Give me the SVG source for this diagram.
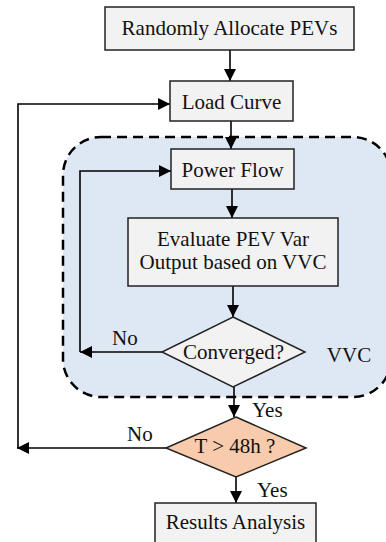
<svg xmlns="http://www.w3.org/2000/svg" width="386" height="542" viewBox="0 0 386 542">
<style>
  .box { fill: #f2f2f2; stroke: #222; stroke-width: 1.5; }
  .dia { stroke: #222; stroke-width: 1.5; }
  .t { font-family: 'Liberation Serif', 'DejaVu Serif', serif; font-size: 21px; fill: #111; text-anchor: middle; }
  .lbl { font-family: 'Liberation Serif', 'DejaVu Serif', serif; font-size: 21px; fill: #111; }
  .c { fill: none; stroke: #000; stroke-width: 1.6; marker-end: url(#ah); }
</style>
<defs>
  <marker id="ah" markerUnits="userSpaceOnUse" markerWidth="12" markerHeight="12" refX="12" refY="6" orient="auto">
    <path d="M0,0 L12,6 L0,12 z" fill="#000"/>
  </marker>
</defs>
<rect x="0" y="0" width="386" height="542" fill="#ffffff"/>
<g id="vvc-region">
  <rect x="63" y="137" width="328" height="260" rx="38" ry="38" fill="#dee8f5" stroke="#000" stroke-width="2.5" stroke-dasharray="10,6"/>
  <text class="t" x="349" y="362">VVC</text>
</g>
<g id="connectors">
  <path class="c" d="M230,50 V81"/>
  <path class="c" d="M231,121 V149"/>
  <path class="c" d="M232,189 V218"/>
  <path class="c" d="M233,286 V317"/>
  <path class="c" d="M162,352 H80"/>
  <path class="c" d="M80,352 V171 H171"/>
  <path class="c" d="M234,387 V417"/>
  <path class="c" d="M166,448 H17"/>
  <path class="c" d="M18,448 V104 H170"/>
  <path class="c" d="M236,477 V503"/>
  <text class="lbl" x="112" y="345">No</text>
  <text class="lbl" x="252" y="417">Yes</text>
  <text class="lbl" x="127" y="441">No</text>
  <text class="lbl" x="257" y="497">Yes</text>
</g>
<g id="randomly-allocate">
  <rect class="box" x="105" y="7" width="249" height="43"/>
  <text class="t" x="229.5" y="35">Randomly Allocate PEVs</text>
</g>
<g id="load-curve">
  <rect class="box" x="170" y="81" width="123" height="40"/>
  <text class="t" x="231.5" y="109">Load Curve</text>
</g>
<g id="power-flow">
  <rect class="box" x="171" y="149" width="123" height="40"/>
  <text class="t" x="232.5" y="177">Power Flow</text>
</g>
<g id="evaluate">
  <rect class="box" x="128" y="218" width="210" height="68"/>
  <text class="t" x="233" y="246">Evaluate PEV Var</text>
  <text class="t" x="233" y="269">Output based on VVC</text>
</g>
<g id="converged">
  <polygon class="dia" points="233,317 305,352 233,387 162,352" fill="#f2f2f2"/>
  <text class="t" x="233.5" y="359">Converged?</text>
</g>
<g id="t-48h">
  <polygon class="dia" points="236,417 306,448 236,477 166,448" fill="#f8cbad"/>
  <text class="t" x="235" y="453">T &gt; 48h ?</text>
</g>
<g id="results">
  <rect class="box" x="155" y="503" width="161" height="40"/>
  <text class="t" x="235.5" y="529">Results Analysis</text>
</g>
</svg>
